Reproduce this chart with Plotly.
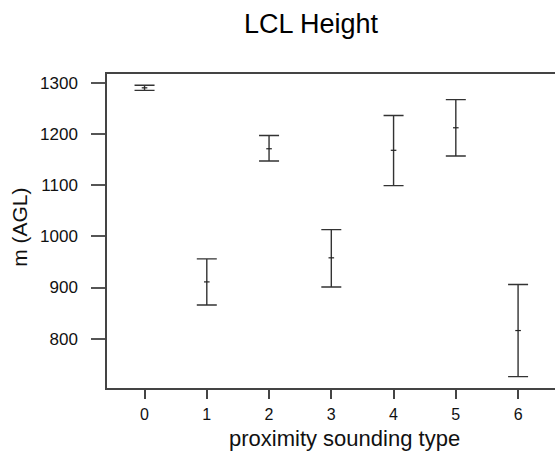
import plotly.graph_objects as go

types = [0, 1, 2, 3, 4, 5, 6]
mean_vals = [1290, 911, 1171, 958, 1168, 1212, 816]
upper_vals = [1295, 956, 1197, 1013, 1236, 1267, 906]
lower_vals = [1285, 866, 1147, 901, 1099, 1157, 726]

err_plus = [u - m for u, m in zip(upper_vals, mean_vals)]
err_minus = [m - l for m, l in zip(mean_vals, lower_vals)]

FONT = "Arial, Liberation Sans, sans-serif"
fig = go.Figure()
fig.add_trace(go.Scatter(
    x=types, y=mean_vals, mode="markers",
    marker=dict(symbol="line-ew", size=4, color="#222", line=dict(width=1.2, color="#222")),
    error_y=dict(type="data", symmetric=False, array=err_plus, arrayminus=err_minus,
                 color="#333", thickness=1.4, width=10),
    showlegend=False,
))

fig.update_layout(
    width=555, height=451,
    margin=dict(l=107, r=0, t=74, b=63),
    paper_bgcolor="white", plot_bgcolor="white",
    font=dict(family=FONT, color="#111"),
    xaxis=dict(range=[-0.603, 6.593], tickvals=types, ticktext=[str(t) for t in types],
               showgrid=False, zeroline=False, showline=True, linecolor="#444", linewidth=1.5,
               mirror=True, ticks="outside", ticklen=9, tickcolor="#444", tickwidth=1.5,
               tickfont=dict(size=16, family=FONT, color="#111"), ticklabelstandoff=2),
    yaxis=dict(range=[703.8, 1317], tickvals=[800, 900, 1000, 1100, 1200, 1300],
               showgrid=False, zeroline=False, showline=True, linecolor="#444", linewidth=1.5,
               ticks="outside", ticklen=14, tickcolor="#555", tickwidth=1.5,
               tickfont=dict(size=17, family=FONT, color="#111"), ticklabelstandoff=10),
    annotations=[
        dict(text="LCL Height", xref="paper", yref="paper", x=(311 - 107) / 448, y=(388 - 24) / 314,
             showarrow=False, font=dict(size=27, family=FONT, color="#000"),
             xanchor="center", yanchor="middle"),
        dict(text="m (AGL)", xref="paper", yref="paper", x=(20 - 107) / 448, y=0.51,
             showarrow=False, textangle=-90, font=dict(size=21, family=FONT, color="#111"),
             xanchor="center", yanchor="middle"),
        dict(text="proximity sounding type", xref="paper", yref="paper", x=(344 - 107) / 448,
             y=(388 - 438) / 314, showarrow=False, font=dict(size=22, family=FONT, color="#111"),
             xanchor="center", yanchor="middle"),
    ],
)

fig.write_html("out.html", config={"displayModeBar": False},
               post_script="document.body.style.margin='0';document.body.style.overflow='hidden';")
